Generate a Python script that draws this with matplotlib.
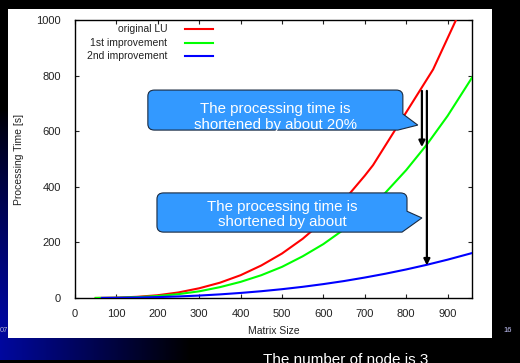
import numpy as np
import matplotlib
matplotlib.use("Agg")
import matplotlib.pyplot as plt
from matplotlib.path import Path
from matplotlib.patches import PathPatch, Rectangle

plt.rcParams['font.family'] = ['Liberation Sans', 'DejaVu Sans']

# ---------------- data ----------------
series_labels = ["original LU", "1st improvement", "2nd improvement"]
series_colors = ["#ff0000", "#00ff00", "#0000ff"]

n_orig = [50, 100, 150, 200, 250, 300, 350, 400, 450, 500, 550, 600, 650, 700, 720, 865, 925]
t_orig = [0.2, 1.3, 4.3, 10, 20, 35, 55, 82, 117, 160, 213, 277, 352, 440, 478, 822, 1015]

n_imp1 = [50, 100, 150, 200, 250, 300, 350, 400, 450, 500, 550, 600, 650, 700, 750, 800, 850, 900, 960]
t_imp1 = [0.1, 0.9, 3, 7.2, 14, 24, 39, 58, 82, 112, 150, 194, 247, 308, 379, 460, 552, 655, 795]

n_imp2 = [65, 100, 150, 200, 250, 300, 350, 400, 450, 500, 550, 600, 650, 700, 750, 800, 850, 900, 960]
t_imp2 = [0.2, 0.6, 1.6, 3.2, 5.6, 8.8, 13, 18.2, 24.4, 31.7, 40.2, 50, 61, 73.6, 87.4, 102.7, 119.5, 137.9, 162]

x_ticks = [0, 100, 200, 300, 400, 500, 600, 700, 800, 900]
y_ticks = [0, 200, 400, 600, 800, 1000]

callout_texts = ["The processing time is\nshortened by about 20%",
                 "The processing time is\nshortened by about"]

# ---------------- figure ----------------
W, H = 520, 363
fig = plt.figure(figsize=(W / 100, H / 100), dpi=100, facecolor="black")

# background gradient (slide decoration)
bg = fig.add_axes([0, 0, 1, 1])
bg.set_axis_off()
yy, xx = np.mgrid[0:H, 0:W]
fx = np.clip(1 - xx / 190.0, 0, 1) ** 1.0
fy = np.clip((yy - 110) / 210.0, 0, 1) ** 0.8
blue = 0.62 * fx * fy
blue[yy >= 360] = 0
img = np.dstack([np.zeros_like(blue), np.zeros_like(blue) + blue * 0.05, blue])
bg.imshow(img, extent=[0, W, H, 0], aspect="auto", zorder=0)
bg.set_xlim(0, W)
bg.set_ylim(H, 0)
bg.text(8, 331, "07", ha="right", va="center", fontsize=5.5, color="#b0b0d0", zorder=1)
bg.add_patch(Rectangle((8, 9), 484, 329, facecolor="white", edgecolor="none", zorder=2))
bg.text(508, 331, "16", ha="center", va="center", fontsize=5.5, color="#c8c8ff", zorder=3)
bg.text(263, 353, "The number of node is 3", ha="left", va="top", fontsize=11, color="white", zorder=3)

# main axes
ax = fig.add_axes([75 / W, 1 - 298 / H, (472 - 75) / W, (298 - 20) / H])
ax.set_facecolor("white")

lines = []
for (xs, ys), lab, col in zip([(n_orig, t_orig), (n_imp1, t_imp1), (n_imp2, t_imp2)],
                               series_labels, series_colors):
    ln, = ax.plot(xs, ys, color=col, lw=1.5, label=lab, zorder=3, solid_joinstyle="round")
    lines.append(ln)

ax.set_xlim(0, 959)
ax.set_ylim(0, 1000)
ax.set_xticks(x_ticks)
ax.set_yticks(y_ticks)
ax.tick_params(direction="in", length=3, width=0.8, top=True, right=True,
               labelsize=8, colors="#222222")
ax.tick_params(axis="y", pad=10)
ax.tick_params(axis="x", pad=8)
for s in ax.spines.values():
    s.set_linewidth(1.0)
    s.set_color("black")

ax.set_xlabel("Matrix Size", fontsize=7.5, color="#222222")
ax.xaxis.set_label_coords(0.5, -0.1)
ax.set_ylabel("Processing Time [s]", fontsize=7.5, color="#222222")
ax.yaxis.set_label_coords(-0.128, 0.5)

# legend (gnuplot style: right-aligned text, sample line to the right)
leg_rows_y = [0.967, 0.917, 0.869]
for ln, yv in zip(lines, leg_rows_y):
    ax.text(0.232, yv, ln.get_label(), transform=ax.transAxes, ha="right", va="center",
            fontsize=7.5, color="#222222")
    ax.plot([0.277, 0.348], [yv, yv], transform=ax.transAxes, color=ln.get_color(), lw=1.5,
            clip_on=False)

# callouts
def callout(x0, x1, y0, y1, tip, base1, base2, text, tx, ty):
    rx, ry = 16, 22
    verts = [
        (x0 + rx, y1), (x1 - rx, y1), (x1, y1), (x1, y1 - ry),
        base1, tip, base2,
        (x1 - rx, y0),
        (x0 + rx, y0), (x0, y0), (x0, y0 + ry),
        (x0, y1 - ry), (x0, y1), (x0 + rx, y1), (x0 + rx, y1),
    ]
    codes = [Path.MOVETO, Path.LINETO, Path.CURVE3, Path.CURVE3,
             Path.LINETO, Path.LINETO, Path.LINETO,
             Path.LINETO,
             Path.LINETO, Path.CURVE3, Path.CURVE3,
             Path.LINETO, Path.CURVE3, Path.CURVE3, Path.CLOSEPOLY]
    p = PathPatch(Path(verts, codes), facecolor="#3399ff", edgecolor="#1a2a40", lw=0.8, zorder=5)
    ax.add_patch(p)
    ax.text(tx, ty, text, ha="center", va="center", color="white", fontsize=10.8,
            linespacing=1.1, zorder=6)

callout(176, 792, 604, 748, (828, 622), (792, 662), (780, 604),
        callout_texts[0], 484, 651)
callout(198, 802, 237, 378, (838, 288), (802, 312), (790, 237),
        callout_texts[1], 500, 300)

# arrows
ax.annotate("", xy=(838, 543), xytext=(838, 745),
            arrowprops=dict(arrowstyle="-|>", color="black", lw=1.6,
                            mutation_scale=9, shrinkA=0, shrinkB=0), zorder=7)
ax.annotate("", xy=(850, 117), xytext=(850, 745),
            arrowprops=dict(arrowstyle="-|>", color="black", lw=1.6,
                            mutation_scale=9, shrinkA=0, shrinkB=0), zorder=7)

fig.savefig("out.png", dpi=100, facecolor="black")
